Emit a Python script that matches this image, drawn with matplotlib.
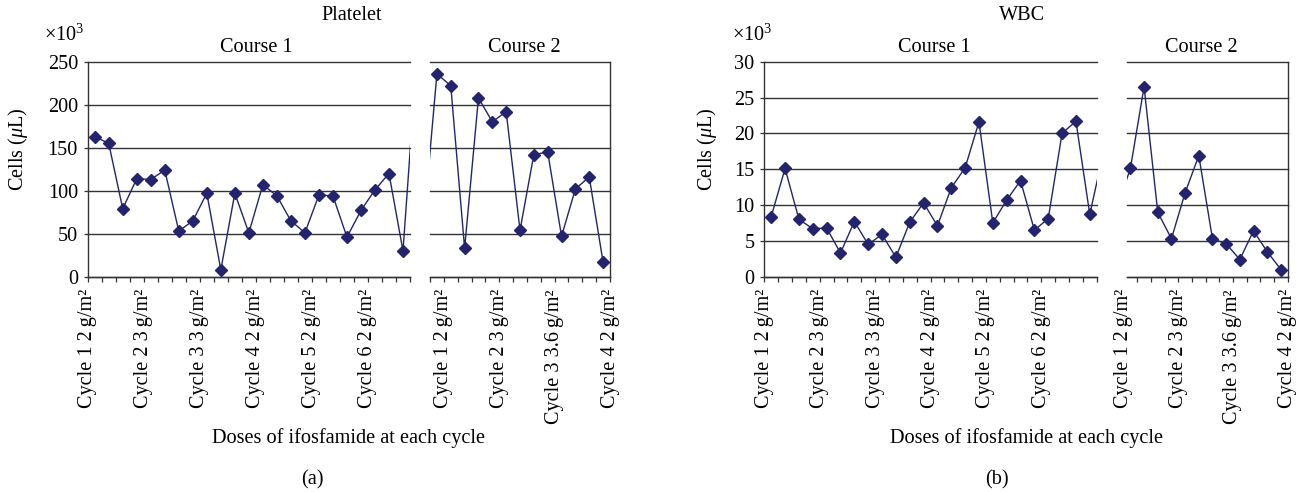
import matplotlib
matplotlib.use("Agg")
import matplotlib.pyplot as plt
from matplotlib import transforms

plt.rcParams['font.family'] = ['Liberation Serif', 'DejaVu Serif']
plt.rcParams['mathtext.fontset'] = 'custom'
plt.rcParams['mathtext.rm'] = 'Liberation Serif'
plt.rcParams['mathtext.it'] = 'Liberation Serif:italic'

# ---------------- data ----------------
platelet_course1 = [163, 155, 79, 114, 113, 124, 53, 65, 97, 8, 97, 51, 107, 94,
                    65, 51, 95, 94, 46, 77, 101, 120, 30]
platelet_course2 = [236, 222, 33, 208, 180, 192, 54, 142, 145, 47, 102, 116, 17]
wbc_course1 = [8.4, 15.1, 8.0, 6.7, 6.8, 3.3, 7.7, 4.5, 5.9, 2.7, 7.6, 10.3, 7.1,
               12.4, 15.2, 21.6, 7.5, 10.7, 13.4, 6.5, 8.1, 20.0, 21.7, 8.7]
wbc_course2 = [15.1, 26.5, 9.0, 5.3, 11.7, 16.9, 5.3, 4.6, 2.4, 6.4, 3.5, 1.0]

course1_labels = ["Cycle 1 2\u2009g/m\u00b2", "Cycle 2 3\u2009g/m\u00b2", "Cycle 3 3\u2009g/m\u00b2",
                  "Cycle 4 2\u2009g/m\u00b2", "Cycle 5 2\u2009g/m\u00b2", "Cycle 6 2\u2009g/m\u00b2"]
course2_labels = ["Cycle 1 2\u2009g/m\u00b2", "Cycle 2 3\u2009g/m\u00b2", "Cycle 3 3.6\u2009g/m\u00b2",
                  "Cycle 4 2\u2009g/m\u00b2"]
platelet_yticks = [0, 50, 100, 150, 200, 250]
wbc_yticks = [0, 5, 10, 15, 20, 25, 30]

# ---------------- style ----------------
W, H = 1305, 492
NAVY = '#24246e'
GRID = '#333333'
FS = 14.6

fig = plt.figure(figsize=(W / 100, H / 100), dpi=100)


def box(x0, x1, y0=61.7, y1=276.7):
    return [x0 / W, 1 - y1 / H, (x1 - x0) / W, (y1 - y0) / H]


def make_panel(px1, px2, c1, c2, yticks, xlim2, lab2_pos, d1, d2):
    ax1 = fig.add_axes(box(*px1))
    ax2 = fig.add_axes(box(*px2))
    n1, n2 = len(c1), len(c2)
    x1 = [i + 0.5 for i in range(n1)]
    x2 = [i + 0.5 for i in range(n2)]
    # lines continuing toward the neighbouring course (cut by the axis break)
    ax1.plot(x1 + [x1[-1] + d1], c1 + [c2[0]], '-', color=NAVY, lw=1.0, zorder=3)
    ax2.plot([x2[0] - d2] + x2, [c1[-1]] + c2, '-', color=NAVY, lw=1.0, zorder=3)
    ax1.plot(x1, c1, 'D', color=NAVY, ms=6.6, clip_on=False, zorder=4)
    ax2.plot(x2, c2, 'D', color=NAVY, ms=6.6, clip_on=False, zorder=4)

    ax1.set_xlim(0, n1)
    ax2.set_xlim(*xlim2)
    for ax in (ax1, ax2):
        ax.set_ylim(yticks[0], yticks[-1])
        for t in yticks:
            ax.axhline(t, color=GRID, lw=1.0, clip_on=False, zorder=1)
        for s in ('top', 'left', 'right'):
            ax.spines[s].set_visible(False)
        ax.spines['bottom'].set_color(GRID)
        ax.spines['bottom'].set_linewidth(1.0)
        ax.tick_params(axis='x', direction='out', length=3.5, width=0.9,
                       color=GRID, labelbottom=False)
    ax1.spines['left'].set_visible(True)
    ax1.spines['left'].set_color(GRID)
    ax1.spines['left'].set_linewidth(1.0)
    ax2.spines['right'].set_visible(True)
    ax2.spines['right'].set_color(GRID)
    ax2.spines['right'].set_linewidth(1.0)

    ax1.set_xticks(range(0, n1 + 1))
    lo = int(xlim2[0]) + (1 if xlim2[0] > int(xlim2[0]) else 0)
    ax2.set_xticks(range(lo, int(xlim2[1]) + 1))

    ax1.set_yticks(yticks)
    ax1.set_yticklabels([str(t) for t in yticks], fontsize=FS)
    ax1.tick_params(axis='y', direction='out', length=3, width=0.9, color=GRID, pad=4)
    ax2.set_yticks([])

    ty = 1 - 289 / H
    tr1 = transforms.blended_transform_factory(ax1.transData, fig.transFigure)
    tr2 = transforms.blended_transform_factory(ax2.transData, fig.transFigure)
    for k, lab in enumerate(course1_labels):
        ax1.text(4 * k, ty, lab, transform=tr1, rotation=90, ha='center', va='top',
                 fontsize=FS, clip_on=False)
    for pos, lab in zip(lab2_pos, course2_labels):
        ax2.text(pos, ty, lab, transform=tr2, rotation=90, ha='center', va='top',
                 fontsize=FS, clip_on=False)
    return ax1, ax2


make_panel((87.7, 410), (430, 610), platelet_course1, platelet_course2,
           platelet_yticks, (0, 13), [1, 5, 9, 13], 0.9, 1.13)
make_panel((764.3, 1096.7), (1126.7, 1287.7), wbc_course1, wbc_course2,
           wbc_yticks, (0.23, 12), [0, 4, 8, 12], 0.73, 1.15)


def ftext(x, y, s, **kw):
    fig.text(x / W, 1 - y / H, s, ha=kw.pop('ha', 'center'), va=kw.pop('va', 'center'),
             fontsize=kw.pop('fontsize', FS), **kw)


ftext(351.7, 15, "Platelet")
ftext(1021.7, 15, "WBC")
ftext(64, 35, r"$\times$10$^{3}$")
ftext(752, 35, r"$\times$10$^{3}$")
ftext(256, 48, "Course 1")
ftext(524, 48, "Course 2")
ftext(934, 48, "Course 1")
ftext(1201, 48, "Course 2")
ftext(18, 149, r"Cells ($\mu$L)", rotation=90)
ftext(707, 149, r"Cells ($\mu$L)", rotation=90)
ftext(349, 438, "Doses of ifosfamide at each cycle")
ftext(1026, 438, "Doses of ifosfamide at each cycle")
ftext(312, 480, "(a)")
ftext(997, 480, "(b)")

fig.savefig("out.png", dpi=100)
